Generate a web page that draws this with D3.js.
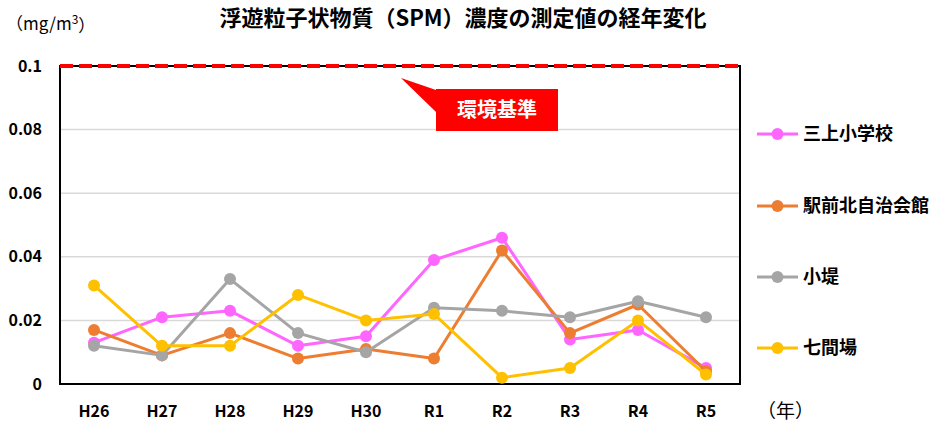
<!DOCTYPE html>
<html>
<head>
<meta charset="utf-8">
<script src="https://cdn.jsdelivr.net/npm/d3@7"></script>
<style>
  body { margin: 0; background: #fff; }
  svg text { font-family: "Noto Sans CJK JP", "Noto Sans", sans-serif; }
</style>
</head>
<body>
<div id="chart"></div>
<script>
var years = ['H26', 'H27', 'H28', 'H29', 'H30', 'R1', 'R2', 'R3', 'R4', 'R5'];
var seriesNames = ['三上小学校', '駅前北自治会館', '小堤', '七間場'];
var mikami   = [0.013, 0.021, 0.023, 0.012, 0.015, 0.039, 0.046, 0.014, 0.017, 0.005];
var ekimae   = [0.017, 0.009, 0.016, 0.008, 0.011, 0.008, 0.042, 0.016, 0.025, 0.004];
var kozutsumi = [0.012, 0.009, 0.033, 0.016, 0.010, 0.024, 0.023, 0.021, 0.026, 0.021];
var shichikenba = [0.031, 0.012, 0.012, 0.028, 0.020, 0.022, 0.002, 0.005, 0.020, 0.003];
var yTicks = [0, 0.02, 0.04, 0.06, 0.08, 0.1];
var standard = 0.1;

var colors = ['#FF66FF', '#ED7D31', '#A5A5A5', '#FFC000'];
var allSeries = [mikami, ekimae, kozutsumi, shichikenba];

var W = 940, H = 428,
    margin = { top: 66, left: 60, right: 200, bottom: 44 },
    width = 740 - margin.left,
    height = 384 - margin.top;

var svg = d3.select('#chart').append('svg')
    .attr('width', W)
    .attr('height', H);

var xScale = d3.scaleBand()
    .domain(years)
    .range([0, width]);

var yScale = d3.scaleLinear()
    .domain([0, 0.1])
    .range([height, 0]);

var chart = svg.append('g')
    .attr('transform', 'translate(' + margin.left + ',' + margin.top + ')');

// gridlines
chart.selectAll('line.grid')
    .data(yTicks.filter(function(d) { return d > 0 && d < 0.1; }))
    .enter().append('line')
    .attr('class', 'grid')
    .attr('x1', 0).attr('x2', width)
    .attr('y1', function(d) { return yScale(d); })
    .attr('y2', function(d) { return yScale(d); })
    .attr('stroke', '#d9d9d9')
    .attr('stroke-width', 1.5);

// frame
chart.append('rect')
    .attr('x', 0).attr('y', 0)
    .attr('width', width).attr('height', height)
    .attr('fill', 'none')
    .attr('stroke', '#000')
    .attr('stroke-width', 2);

// y tick labels
svg.append('g').selectAll('text')
    .data(yTicks)
    .enter().append('text')
    .attr('x', 42)
    .attr('y', function(d) { return margin.top + yScale(d); })
    .attr('dy', '0.35em')
    .attr('text-anchor', 'end')
    .attr('font-size', 16)
    .attr('font-weight', 'bold')
    .text(function(d) { return d; });

// x tick labels
svg.append('g').selectAll('text')
    .data(years)
    .enter().append('text')
    .attr('x', function(d) { return margin.left + xScale(d) + xScale.bandwidth() / 2; })
    .attr('y', 411)
    .attr('dy', '0.35em')
    .attr('text-anchor', 'middle')
    .attr('font-size', 16)
    .attr('font-weight', 'bold')
    .text(function(d) { return d; });

// environmental standard line
chart.append('line')
    .attr('x1', 0).attr('x2', width)
    .attr('y1', yScale(standard)).attr('y2', yScale(standard))
    .attr('stroke', '#FF0000')
    .attr('stroke-width', 4)
    .attr('stroke-dasharray', '13,6');

// callout
var callout = svg.append('g');
callout.append('polygon')
    .attr('points', '436,90 401,78 436,112')
    .attr('fill', '#FF0000');
callout.append('rect')
    .attr('x', 436).attr('y', 89)
    .attr('width', 122).attr('height', 42)
    .attr('fill', '#FF0000');
callout.append('text')
    .attr('x', 497).attr('y', 110)
    .attr('dy', '0.35em')
    .attr('text-anchor', 'middle')
    .attr('fill', '#fff')
    .attr('font-size', 20)
    .attr('font-weight', 'bold')
    .text('環境基準');

// series lines and points
var line = d3.line()
    .x(function(d, i) { return xScale(years[i]) + xScale.bandwidth() / 2; })
    .y(function(d) { return yScale(d); });

allSeries.forEach(function(s, k) {
    chart.append('path')
        .datum(s)
        .attr('d', line)
        .attr('fill', 'none')
        .attr('stroke', colors[k])
        .attr('stroke-width', 3)
        .attr('stroke-linejoin', 'round');
    chart.selectAll('circle.s' + k)
        .data(s)
        .enter().append('circle')
        .attr('class', 's' + k)
        .attr('cx', function(d, i) { return xScale(years[i]) + xScale.bandwidth() / 2; })
        .attr('cy', function(d) { return yScale(d); })
        .attr('r', 6)
        .attr('fill', colors[k]);
});

// legend
var legendY = [134, 206, 277, 348];
var legend = svg.append('g').selectAll('g')
    .data(seriesNames)
    .enter().append('g')
    .attr('transform', function(d, i) { return 'translate(757,' + legendY[i] + ')'; });
legend.append('line')
    .attr('x1', 0).attr('x2', 41)
    .attr('stroke', function(d, i) { return colors[i]; })
    .attr('stroke-width', 3);
legend.append('circle')
    .attr('cx', 20.5).attr('r', 6)
    .attr('fill', function(d, i) { return colors[i]; });
legend.append('text')
    .attr('x', 46)
    .attr('dy', '0.35em')
    .attr('font-size', 18)
    .attr('font-weight', 'bold')
    .text(function(d) { return d; });

// title and unit labels
svg.append('text')
    .attr('x', 463).attr('y', 18)
    .attr('dy', '0.35em')
    .attr('text-anchor', 'middle')
    .attr('font-size', 22)
    .attr('font-weight', 'bold')
    .text('浮遊粒子状物質（SPM）濃度の測定値の経年変化');

var unit = svg.append('text')
    .attr('x', 6).attr('y', 24)
    .attr('dy', '0.35em')
    .attr('font-size', 17);
unit.append('tspan').text('（mg/m');
unit.append('tspan').attr('font-size', 12).attr('dy', '-0.5em').text('3');
unit.append('tspan').attr('dy', '0.5em').text('）');

svg.append('text')
    .attr('x', 757).attr('y', 411)
    .attr('dy', '0.35em')
    .attr('font-size', 19)
    .text('（年）');
</script>
</body>
</html>
